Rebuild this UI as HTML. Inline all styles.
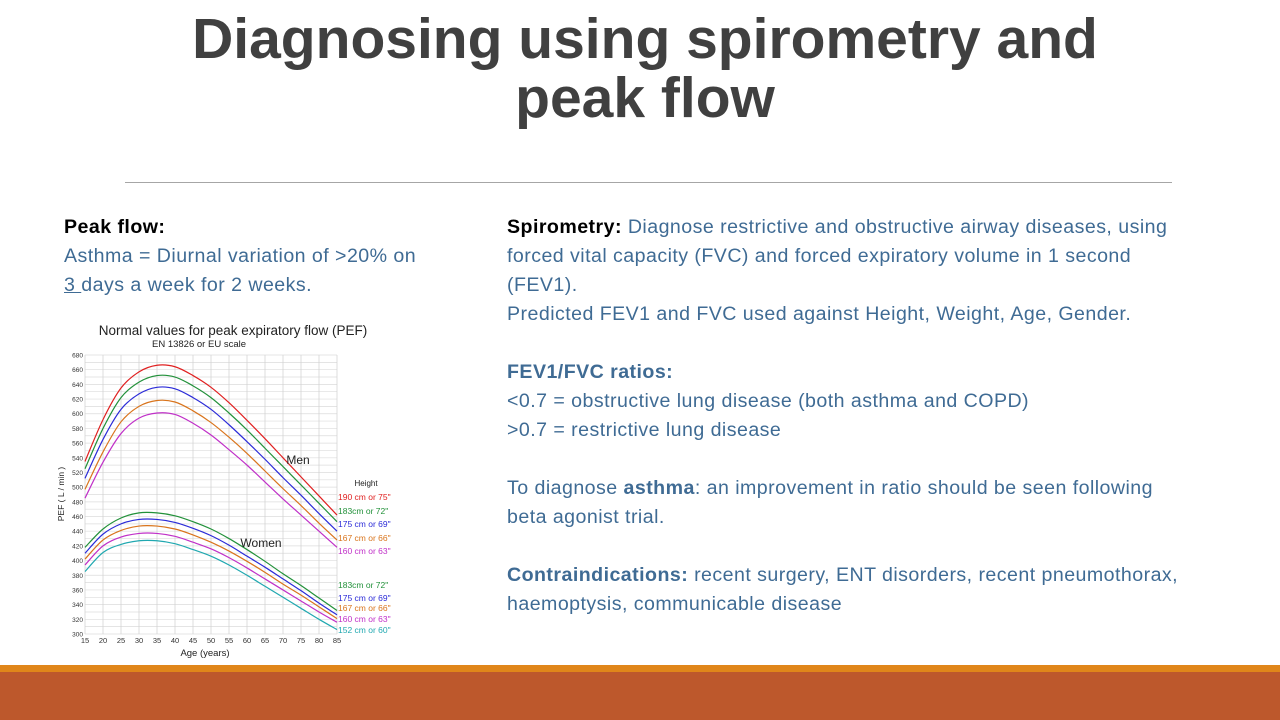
<!DOCTYPE html>
<html><head><meta charset="utf-8">
<style>
body{margin:0;width:1280px;height:720px;position:relative;overflow:hidden;background:#fff;font-family:"Liberation Sans",sans-serif}
.title{position:absolute;left:0;width:1290px;top:10px;text-align:center;font-weight:bold;font-size:57px;line-height:59px;color:#404040}
.rule{position:absolute;left:125px;width:1047px;top:182px;height:1px;background:#a6a6a6}
.txt{position:absolute;font-size:19.6px;letter-spacing:0.45px;line-height:29px;color:#3f6b94;white-space:nowrap}
.txt b.k{color:#000}
.bar1{position:absolute;left:0;top:665px;width:1280px;height:7px;background:#e0861a}
.bar2{position:absolute;left:0;top:672px;width:1280px;height:48px;background:#bd582c}
</style></head><body>
<div class="title">Diagnosing using spirometry and<br>peak flow</div>
<div class="rule"></div>
<div class="txt" style="left:64px;top:213px"><b class="k">Peak flow:</b><br>Asthma = Diurnal variation of &gt;20% on<br><u>3 </u>days a week for 2 weeks.</div>
<div class="txt" style="left:507px;top:213px"><b class="k">Spirometry:</b> Diagnose restrictive and obstructive airway diseases, using<br>forced vital capacity (FVC) and forced expiratory volume in 1 second<br>(FEV1).<br>Predicted FEV1 and FVC used against Height, Weight, Age, Gender.<br><br><b>FEV1/FVC ratios:</b><br>&lt;0.7 = obstructive lung disease (both asthma and COPD)<br>&gt;0.7 = restrictive lung disease<br><br>To diagnose <b>asthma</b>: an improvement in ratio should be seen following<br>beta agonist trial.<br><br><b>Contraindications:</b> recent surgery, ENT disorders, recent pneumothorax,<br>haemoptysis, communicable disease</div>
<svg id="chart" style="position:absolute;left:0;top:0" width="1280" height="720" font-family="Liberation Sans, sans-serif"></svg>
<div class="bar1"></div>
<div class="bar2"></div>
<script>
const ages=[15,20,25,30,35,40,45,50,55,60,65,70,75,80,85];
const yTicks=[300,320,340,360,380,400,420,440,460,480,500,520,540,560,580,600,620,640,660,680];
const xTicks=[15,20,25,30,35,40,45,50,55,60,65,70,75,80,85];
const men190=[535,592,635,657,666,664,652,636,615,591,566,540,514,488,462];
const men183=[525,580,622,643,652,650,638,622,601,578,553,528,503,478,453];
const men175=[512,565,606,627,636,634,622,606,585,562,538,513,489,464,440];
const men167=[497,548,589,610,618,616,604,588,568,546,522,498,475,451,428];
const men160=[485,534,573,594,601,599,587,571,551,530,507,484,462,440,418];
const wom183=[418,443,458,465,465,461,453,443,430,415,399,382,366,349,332];
const wom175=[410,436,450,456,456,452,444,434,421,406,391,375,359,342,326];
const wom167=[402,428,441,447,447,443,435,425,413,399,384,368,353,337,321];
const wom160=[394,420,432,437,437,433,425,416,404,390,375,360,345,330,316];
const wom152=[385,411,422,427,427,423,415,406,394,380,365,350,335,320,306];
const series=[[men190,'#e02020','190 cm or 75"',500],[men183,'#22913a','183cm or 72"',514],[men175,'#2b2bd8','175 cm or 69"',527],[men167,'#d9741c','167 cm or 66"',541],[men160,'#c030c8','160 cm or 63"',554],
[wom183,'#22913a','183cm or 72"',588],[wom175,'#2b2bd8','175 cm or 69"',601],[wom167,'#d9741c','167 cm or 66"',611],[wom160,'#c030c8','160 cm or 63"',622],[wom152,'#20a8b0','152 cm or 60"',633]];
const X=a=>85+(a-15)*(337-85)/70, Y=v=>634-(v-300)*(634-355)/380;
const svg=document.getElementById('chart'),NS='http://www.w3.org/2000/svg';
function mk(t,at,txt){const e=document.createElementNS(NS,t);for(const k in at)e.setAttribute(k,at[k]);if(txt)e.textContent=txt;svg.appendChild(e);return e;}
for(let v=300;v<=680;v+=10){const l=mk('line',{x1:85,x2:337,y1:Y(v),y2:Y(v),stroke:'#dcdcdc','stroke-width':0.7});

}
xTicks.forEach(a=>{const l=mk('line',{x1:X(a),x2:X(a),y1:355,y2:634,stroke:'#cfcfcf','stroke-width':0.7});


const t=mk('text',{x:X(a),y:643,'font-size':7.5,'text-anchor':'middle',fill:'#333'},a);

});
yTicks.forEach(v=>{const t=mk('text',{x:83,y:Y(v)+2.5,'font-size':6.5,'text-anchor':'end',fill:'#333'},v);

});
function path(vals){const p=ages.map((a,i)=>[X(a),Y(vals[i])]);let d='M'+p[0];for(let i=0;i<p.length-1;i++){const p0=p[i-1]||p[i],p1=p[i],p2=p[i+1],p3=p[i+2]||p2;
d+=' C'+(p1[0]+(p2[0]-p0[0])/6)+','+(p1[1]+(p2[1]-p0[1])/6)+' '+(p2[0]-(p3[0]-p1[0])/6)+','+(p2[1]-(p3[1]-p1[1])/6)+' '+p2;}return d;}
series.forEach(s=>{const e=mk('path',{d:path(s[0]),fill:'none',stroke:s[1],'stroke-width':1.2});


const t=mk('text',{x:338,y:s[3],'font-size':8.5,fill:s[1]},s[2]);

});
[['Normal values for peak expiratory flow (PEF)',233,335,13.5,'chart-title'],['EN 13826 or EU scale',199,347,9.5,'chart-subtitle'],['Men',298,464,12,'men-label'],['Women',261,547,12,'women-label'],['Height',366,486,8,'legend-title'],['Age (years)',205,656,9.5,'x-axis-title']].forEach(r=>{
const t=mk('text',{x:r[1],y:r[2],'font-size':r[3],'text-anchor':'middle',fill:'#222'},r[0]);

});
const yt=mk('text',{x:0,y:0,'font-size':8.5,'text-anchor':'middle',fill:'#222',transform:'translate(64,494) rotate(-90)'},'PEF ( L / min )');


</script>
</body></html>
